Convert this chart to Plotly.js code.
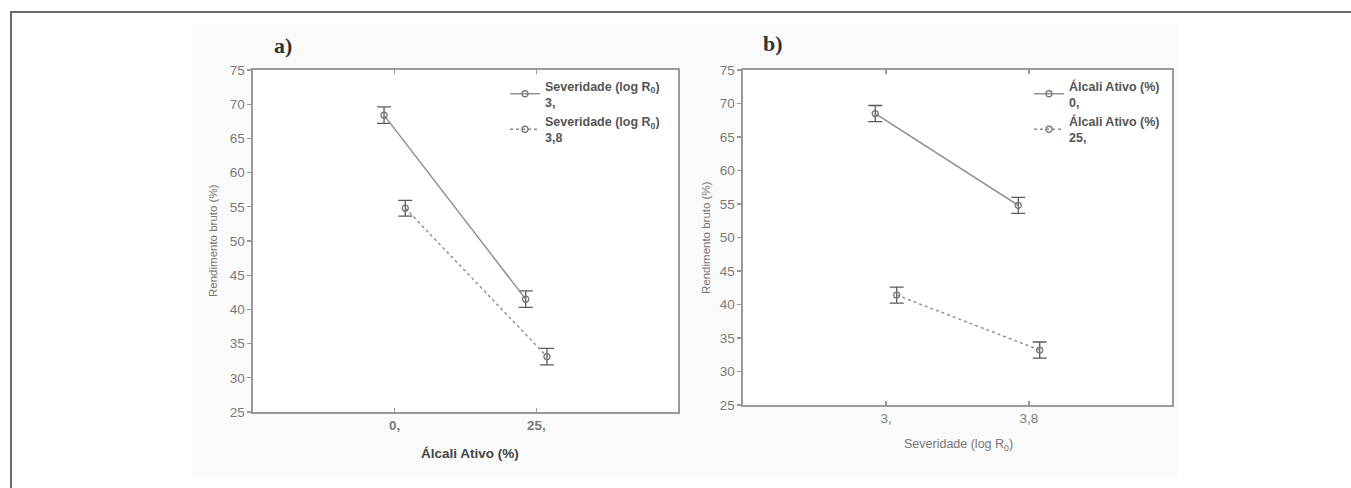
<!DOCTYPE html>
<html>
<head>
<meta charset="utf-8">
<script src="https://cdn.plot.ly/plotly-3.0.1.min.js"></script>
<style>
html,body{margin:0;padding:0;background:#fff;}
#chart{width:1351px;height:488px;}
</style>
</head>
<body>
<div id="chart"></div>
<script>
// ---- data ----
const alcaliCategories = ['0,', '25,'];          // panel a x categories
const severidadeCategories = ['3,', '3,8'];      // panel b x categories
// panel a: series by Severidade (log R0)
const sev3Values = [68.4, 41.5];
const sev3Err = [1.2, 1.2];
const sev38Values = [54.8, 33.1];
const sev38Err = [1.15, 1.2];
// panel b: series by Álcali Ativo (%)
const alc0Values = [68.5, 54.8];
const alc0Err = [1.2, 1.2];
const alc25Values = [41.4, 33.2];
const alc25Err = [1.2, 1.2];
const yTickVals = [25, 30, 35, 40, 45, 50, 55, 60, 65, 70, 75];

// ---- styling ----
const W = 1351, H = 488;
const px = v => v / W;
const py = v => 1 - v / H;
const lineCol = '#8c8c8c';
const errCol = '#5a5a5a';
const axisCol = '#9a9a9a';
const tickFont = {family: 'Liberation Sans, Arial, sans-serif', size: 13.5, color: '#7a7a7a'};
const OFF = 0.075;
const pos = (arr, o) => arr.map((_, i) => i + 1 + o);

function series(xa, ya, cats, vals, errs, off, dash, name, legend) {
  return {
    type: 'scatter', mode: 'lines+markers',
    x: pos(cats, off), y: vals, xaxis: xa, yaxis: ya,
    name: name, legend: legend,
    line: {color: lineCol, width: 1.4, dash: dash},
    marker: {symbol: 'circle-open', size: 6, color: '#777', line: {width: 1.3, color: '#777'}},
    error_y: {type: 'data', array: errs, visible: true, color: errCol, thickness: 1.3, width: 7}
  };
}

const traces = [
  series('x', 'y', alcaliCategories, sev3Values, sev3Err, -OFF, 'solid', '<b>Severidade (log R<sub>0</sub>)</b><br><b>3,</b>', 'legend'),
  series('x', 'y', alcaliCategories, sev38Values, sev38Err, OFF, 'dot', '<b>Severidade (log R<sub>0</sub>)</b><br><b>3,8</b>', 'legend'),
  series('x2', 'y2', severidadeCategories, alc0Values, alc0Err, -OFF, 'solid', '<b>Álcali Ativo (%)</b><br><b>0,</b>', 'legend2'),
  series('x2', 'y2', severidadeCategories, alc25Values, alc25Err, OFF, 'dot', '<b>Álcali Ativo (%)</b><br><b>25,</b>', 'legend2')
];

function xAxis(domain, cats, anchor, bold) {
  return {
    domain: domain, anchor: anchor, range: [0, 3],
    tickmode: 'array', tickvals: cats.map((_, i) => i + 1),
    ticktext: cats.map(c => bold ? '<b>' + c + '</b>' : c),
    ticks: 'inside', ticklen: 4, tickcolor: axisCol, tickwidth: 1.2,
    showline: true, linecolor: axisCol, linewidth: 1.6, mirror: 'ticks',
    showgrid: false, zeroline: false, tickfont: tickFont, fixedrange: true
  };
}
function yAxis(domain, anchor) {
  return {
    domain: domain, anchor: anchor, range: [25, 75],
    tickmode: 'array', tickvals: yTickVals, ticktext: yTickVals.map(String),
    ticks: 'outside', ticklen: 4, tickcolor: axisCol, tickwidth: 1.2,
    showline: true, linecolor: axisCol, linewidth: 1.6, mirror: true,
    showgrid: false, zeroline: false, tickfont: tickFont, fixedrange: true
  };
}

const legendFont = {family: 'Liberation Sans, Arial, sans-serif', size: 12.5, color: '#555'};

const layout = {
  width: W, height: H,
  margin: {l: 0, r: 0, t: 0, b: 0},
  paper_bgcolor: '#ffffff', plot_bgcolor: '#ffffff',
  showlegend: true,
  xaxis: xAxis([px(253), px(678)], alcaliCategories, 'y', true),
  yaxis: yAxis([py(412), py(70)], 'x'),
  xaxis2: xAxis([px(743), px(1172)], severidadeCategories, 'y2', false),
  yaxis2: yAxis([py(405), py(70)], 'x2'),
  legend: {x: px(505), y: py(71), xanchor: 'left', yanchor: 'top', bgcolor: 'rgba(0,0,0,0)',
           font: legendFont, tracegroupgap: 0, itemwidth: 30},
  legend2: {x: px(1029), y: py(71), xanchor: 'left', yanchor: 'top', bgcolor: 'rgba(0,0,0,0)',
            font: legendFont, tracegroupgap: 0, itemwidth: 30},
  shapes: [
    {type: 'rect', xref: 'paper', yref: 'paper', x0: px(192), x1: px(700), y0: py(478), y1: py(24),
     fillcolor: '#fafafa', line: {width: 0}, layer: 'below'},
    {type: 'rect', xref: 'paper', yref: 'paper', x0: px(700), x1: px(1178), y0: py(478), y1: py(24),
     fillcolor: '#fafafa', line: {width: 0}, layer: 'below'},
    {type: 'rect', xref: 'paper', yref: 'paper', x0: px(253), x1: px(678), y0: py(412), y1: py(70),
     fillcolor: '#ffffff', line: {width: 0}, layer: 'below'},
    {type: 'rect', xref: 'paper', yref: 'paper', x0: px(743), x1: px(1172), y0: py(405), y1: py(70),
     fillcolor: '#ffffff', line: {width: 0}, layer: 'below'},
    {type: 'line', xref: 'paper', yref: 'paper', x0: px(11), x1: px(11), y0: 0, y1: py(12),
     line: {color: '#6a6a6a', width: 2}},
    {type: 'line', xref: 'paper', yref: 'paper', x0: px(10), x1: 1, y0: py(12), y1: py(12),
     line: {color: '#6a6a6a', width: 2}}
  ],
  annotations: [
    {text: '<b>a)</b>', xref: 'paper', yref: 'paper', x: px(283), y: py(46), xanchor: 'center', yanchor: 'middle',
     showarrow: false, font: {family: 'Liberation Serif, DejaVu Serif, serif', size: 22, color: '#333'}},
    {text: '<b>b)</b>', xref: 'paper', yref: 'paper', x: px(773), y: py(43), xanchor: 'center', yanchor: 'middle',
     showarrow: false, font: {family: 'Liberation Serif, DejaVu Serif, serif', size: 22, color: '#333'}},
    {text: 'Rendimento bruto (%)', xref: 'paper', yref: 'paper', x: px(213), y: py(241), textangle: -90,
     xanchor: 'center', yanchor: 'middle',
     showarrow: false, font: {family: 'Liberation Sans, Arial, sans-serif', size: 11.5, color: '#777'}},
    {text: 'Rendimento bruto (%)', xref: 'paper', yref: 'paper', x: px(706), y: py(238), textangle: -90,
     xanchor: 'center', yanchor: 'middle',
     showarrow: false, font: {family: 'Liberation Sans, Arial, sans-serif', size: 11.5, color: '#777'}},
    {text: '<b>Álcali Ativo (%)</b>', xref: 'paper', yref: 'paper', x: px(470), y: py(453),
     xanchor: 'center', yanchor: 'middle',
     showarrow: false, font: {family: 'Liberation Sans, Arial, sans-serif', size: 13.5, color: '#444'}},
    {text: 'Severidade (log R<sub>0</sub>)', xref: 'paper', yref: 'paper', x: px(958), y: py(445),
     xanchor: 'center', yanchor: 'middle',
     showarrow: false, font: {family: 'Liberation Sans, Arial, sans-serif', size: 12.5, color: '#777'}}
  ]
};

Plotly.newPlot('chart', traces, layout, {staticPlot: true, displayModeBar: false});
</script>
</body>
</html>
